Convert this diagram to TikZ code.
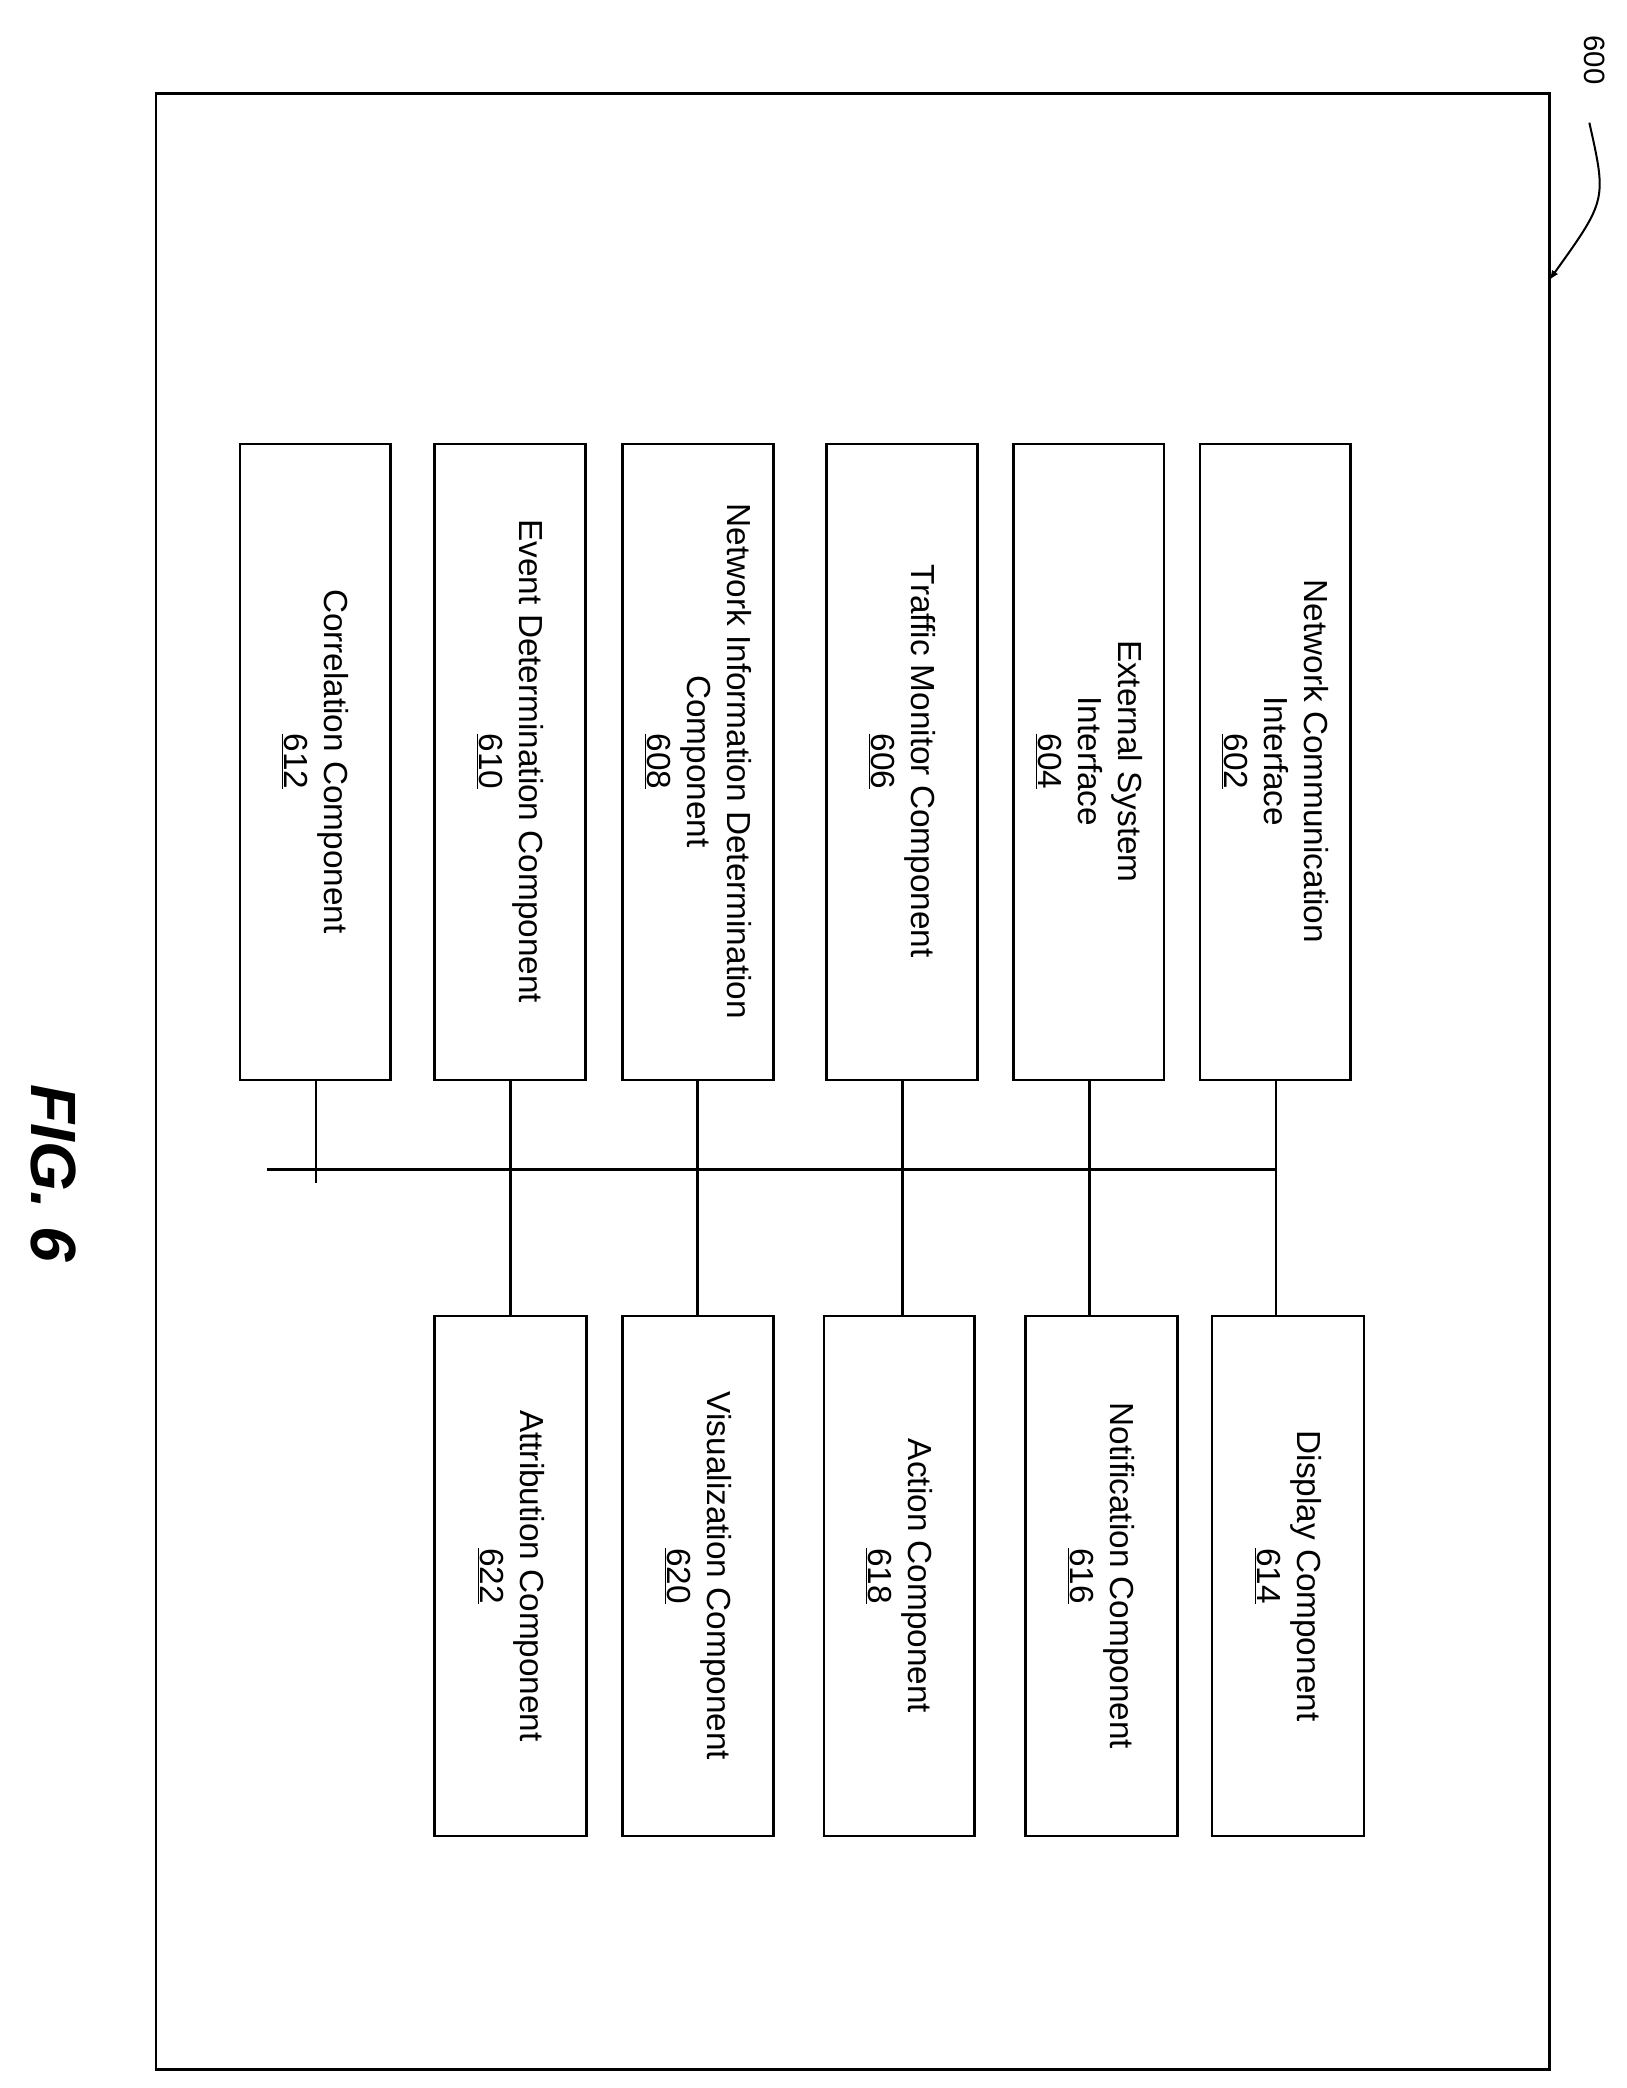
\documentclass[tikz,border=0pt]{standalone}
\usepackage{fontspec}
\setmainfont{Liberation Sans}
\begin{document}
\begin{tikzpicture}[x=1pt,y=-1pt,
 box/.style={draw,line width=2pt},
 lbl/.style={rotate=-90,align=center,font=\fontsize{25}{30}\selectfont},
 ln/.style={line width=2pt}]
\useasboundingbox (0,0) rectangle (1220,1566);
\draw[box] (117,70) rectangle (1162,1552);
% top row
\foreach \n/\a/\b in {612/180/293,610/326/439,608/467/580,606/620/733,604/760/873,602/900/1013}{
  \draw[box] (\a,333) rectangle (\b,810);}
\foreach \n/\a/\b in {622/326/440,620/467/580,618/618/731,616/769/883,614/909/1023}{
  \draw[box] (\a,987) rectangle (\b,1377);}
\node[lbl] (t612) at (236.5,571) {Correlation Component\\\underline{612}};
\node[lbl] (t610) at (382.5,571) {Event Determination Component\\\underline{610}};
\node[lbl] (t608) at (523.5,571) {Network Information Determination\\Component\\\underline{608}};
\node[lbl] (t606) at (676.5,571) {Traffic Monitor Component\\\underline{606}};
\node[lbl] (t604) at (816.5,571) {External System\\Interface\\\underline{604}};
\node[lbl] (t602) at (956.5,571) {Network Communication\\Interface\\\underline{602}};
\node[lbl] (t622) at (383,1182) {Attribution Component\\\underline{622}};
\node[lbl] (t620) at (523.5,1182) {Visualization Component\\\underline{620}};
\node[lbl] (t618) at (674.5,1182) {Action Component\\\underline{618}};
\node[lbl] (t616) at (826,1182) {Notification Component\\\underline{616}};
\node[lbl] (t614) at (966,1182) {Display Component\\\underline{614}};
% bus
\coordinate (b1) at (200,877); \coordinate (b2) at (957,877);
\draw[ln] (b1) -- (b2);
\draw[ln] (237,810) -- (237,887);
\foreach \x in {383,523,677,817,957}{\draw[ln] (\x,810) -- (\x,987);}
% label 600
\node[rotate=-90,font=\fontsize{22}{26}\selectfont] (n600) at (1196,45) {600};
\coordinate (arrS) at (1192,92);
\coordinate (arrE) at (1162,210);
\draw[line width=1.5pt,-latex] (arrS) .. controls (1205,150) .. (arrE);
\node[rotate=-90,font=\fontsize{48}{56}\selectfont\bfseries\itshape] (fig) at (40,880) {FIG. 6};
\end{tikzpicture}
\end{document}
